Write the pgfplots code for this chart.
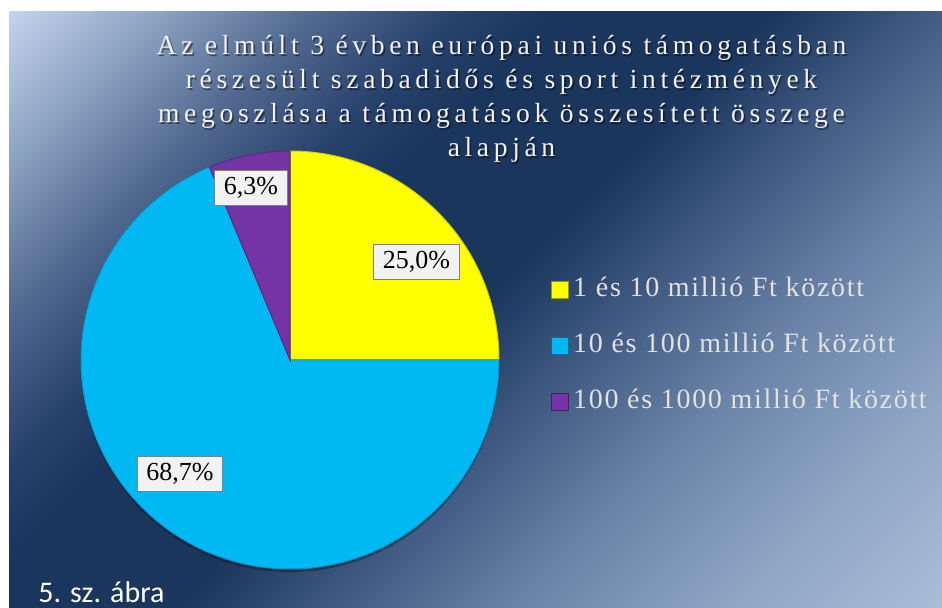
\documentclass[border=0pt]{standalone}
\usepackage{fontspec}
\setmainfont{Liberation Serif}
\newfontfamily\titlefont[LetterSpace=16.8]{Liberation Serif}
\newfontfamily\legfont[LetterSpace=6]{Liberation Serif}
\newfontfamily\capfont{Carlito}
\usepackage{pgfplots}
\usepackage{pgfplotstable}
\pgfplotsset{compat=1.18}

\definecolor{pieyellow}{HTML}{FFFF00}
\definecolor{piecyan}{HTML}{00B9F2}
\definecolor{piepurple}{HTML}{7434A4}
\definecolor{bgA}{HTML}{C4D4EC}
\definecolor{bgB}{HTML}{8CA2C2}
\definecolor{bgC}{HTML}{52698F}
\definecolor{bgD}{HTML}{25406A}
\definecolor{bgE}{HTML}{1B365D}
\definecolor{bgF}{HTML}{405A82}
\definecolor{bgG}{HTML}{6A83A6}
\definecolor{bgH}{HTML}{8CA3C4}
\definecolor{bgI}{HTML}{ABBED8}
\definecolor{labelfill}{HTML}{F2F2F2}
\definecolor{legtext}{HTML}{E2E2E2}

% 25bp = top-left corner, 75bp = bottom-right corner
\pgfdeclarehorizontalshading{bgshade}{100bp}{%
  color(0bp)=(bgA); color(25bp)=(bgA); color(30bp)=(bgB); color(35bp)=(bgC);
  color(40bp)=(bgD); color(43bp)=(bgE); color(50bp)=(bgE); color(55bp)=(bgF);
  color(61bp)=(bgG); color(67.5bp)=(bgH); color(75bp)=(bgI); color(100bp)=(bgI)}

% shares in percent, clockwise from 12 o'clock
\pgfplotstableread{
share
25.0
68.7
6.3
}\piedata

\tikzset{
  ttl/.style={anchor=base, inner sep=0, text=white!95!black,
    font=\titlefont\fontsize{13.8}{16}\selectfont},
  ttlshadow/.style={ttl, text=black, opacity=0.45},
  lbl/.style={fill=labelfill, draw=black!50, line width=0.5pt,
    font=\fontsize{13}{15}\selectfont, inner xsep=4.5pt, inner ysep=0pt,
    text height=9.5pt, text depth=3pt, minimum height=17.5pt},
}

\begin{document}
\begin{tikzpicture}
\pgfplotstablegetelem{0}{share}\of\piedata \pgfmathsetmacro{\aA}{90-3.6*\pgfplotsretval}
\pgfplotstablegetelem{1}{share}\of\piedata \pgfmathsetmacro{\aB}{\aA-3.6*\pgfplotsretval}
\pgfplotstablegetelem{2}{share}\of\piedata \pgfmathsetmacro{\aC}{\aB-3.6*\pgfplotsretval}
\def\R{104.5pt}

% background: white margin, diagonal gradient panel
\fill[white] (0,0) rectangle (471pt,304pt);
\begin{scope}
  \clip (4.5pt,0pt) rectangle (471pt,298pt);
  \begin{scope}[transform canvas={rotate=-45}]
    \shade[shading=bgshade] (-207.5pt,-20pt) rectangle (333pt,570pt);
  \end{scope}
\end{scope}

\begin{axis}[
    at={(0pt,0pt)}, anchor=south west,
    scale only axis,
    width=471pt, height=304pt,
    xmin=0, xmax=942, ymin=0, ymax=608,
    y dir=reverse,
    axis lines=none,
    clip=false,
    legend cell align=left,
    legend image code/.code={\draw[#1] (0pt,-4.25pt) rectangle (8.5pt,4.25pt);},
    legend style={
        at={(axis cs:545,346)}, anchor=west,
        draw=none, fill=none,
        font=\legfont\fontsize{14}{16}\selectfont,
        text=legtext,
        row sep=11pt,
        nodes={text height=10pt, text depth=3pt, inner ysep=2pt, inner xsep=2pt},
    },
]
% title with soft shadow
\node[ttlshadow] at ([xshift=0.8pt,yshift=-0.8pt]axis cs:501.5,55) {Az elmúlt 3 évben európai uniós támogatásban};
\node[ttl] at (axis cs:501.5,55) {Az elmúlt 3 évben európai uniós támogatásban};
\node[ttlshadow] at ([xshift=0.8pt,yshift=-0.8pt]axis cs:501.5,89) {részesült szabadidős és sport intézmények};
\node[ttl] at (axis cs:501.5,89) {részesült szabadidős és sport intézmények};
\node[ttlshadow] at ([xshift=0.8pt,yshift=-0.8pt]axis cs:501.5,123) {megoszlása a támogatások összesített összege};
\node[ttl] at (axis cs:501.5,123) {megoszlása a támogatások összesített összege};
\node[ttlshadow] at ([xshift=0.8pt,yshift=-0.8pt]axis cs:501.5,157) {alapján};
\node[ttl] at (axis cs:501.5,157) {alapján};

% pie
\fill[black, opacity=0.35] ([yshift=-1.5pt]axis cs:290,360) circle[radius=\R];
\fill[pieyellow, draw=pieyellow!80!black, line width=0.5pt]
  (axis cs:290,360) -- ++(90:\R) arc[start angle=90, end angle=\aA, radius=\R] -- cycle;
\fill[piecyan, draw=piecyan!80!black, line width=0.5pt]
  (axis cs:290,360) -- ++(\aA:\R) arc[start angle=\aA, end angle=\aB, radius=\R] -- cycle;
\fill[piepurple, draw=piepurple!80!black, line width=0.5pt]
  (axis cs:290,360) -- ++(\aB:\R) arc[start angle=\aB, end angle=\aC, radius=\R] -- cycle;

% data labels
\node[lbl] at (axis cs:416.5,262.5) {25,0\%};
\node[lbl] at (axis cs:251,188.5) {6,3\%};
\node[lbl] at (axis cs:180,474.5) {68,7\%};

% caption
\node[anchor=base west, inner sep=0, text=white, font=\capfont\fontsize{15}{18}\selectfont]
  at (axis cs:38,603) {5. sz. ábra};

\addlegendimage{fill=pieyellow, draw=pieyellow!60!black}
\addlegendentry{1 és 10 millió Ft között}
\addlegendimage{fill=piecyan, draw=piecyan!60!black}
\addlegendentry{10 és 100 millió Ft között}
\addlegendimage{fill=piepurple, draw=piepurple!60!black}
\addlegendentry{100 és 1000 millió Ft között}
\end{axis}
\pgfresetboundingbox
\useasboundingbox (0,0) rectangle (471pt,304pt);
\end{tikzpicture}
\end{document}
